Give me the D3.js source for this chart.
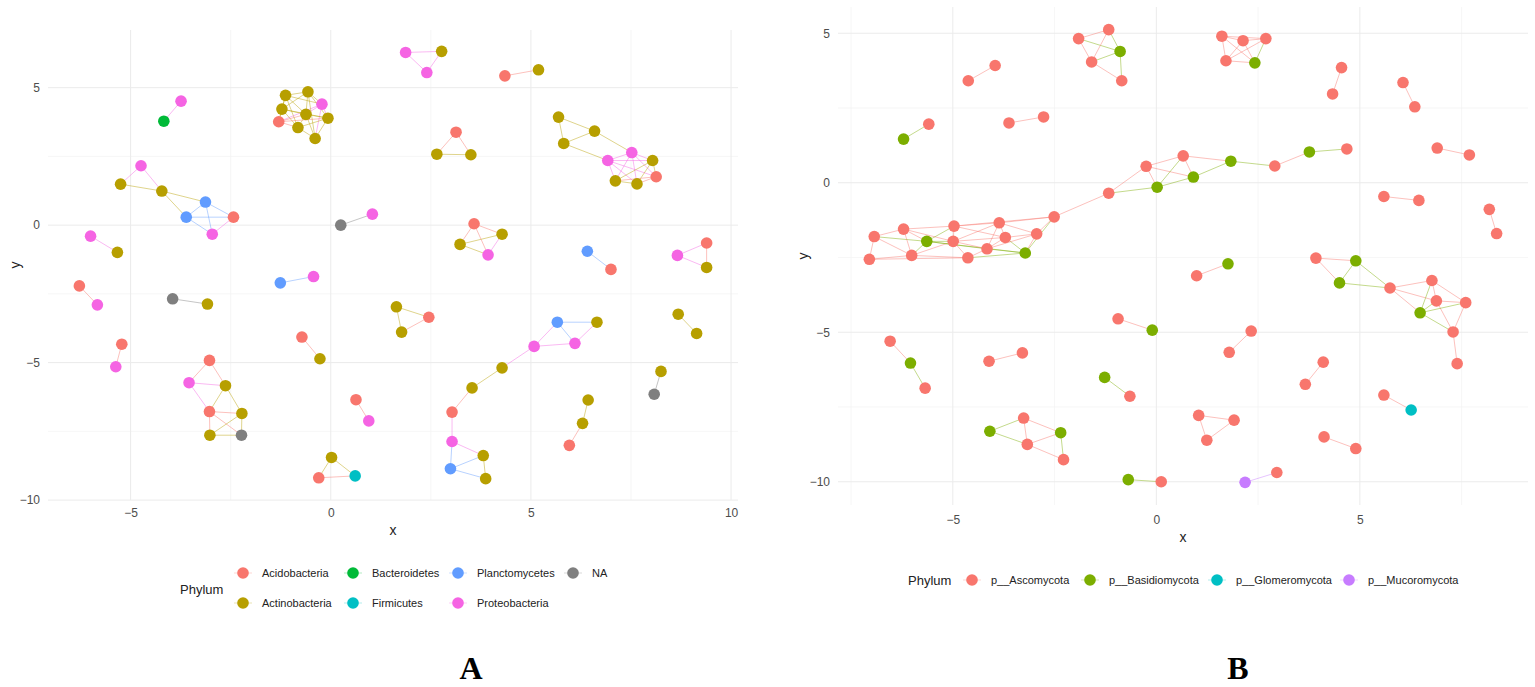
<!DOCTYPE html>
<html>
<head>
<meta charset="utf-8">
<script src="https://cdn.jsdelivr.net/npm/d3@7"></script>
<style>
  body { margin: 0; background: #fff; }
  text { font-family: "Liberation Sans", Arial, sans-serif; }
</style>
</head>
<body>
<svg id="chart" width="1535" height="687"></svg>
<script>
// ---- panel A (bacteria) ----
var phylaA = ["Acidobacteria", "Actinobacteria", "Bacteroidetes", "Firmicutes", "Planctomycetes", "Proteobacteria", "NA"];
var coloursA = ["#F8766D", "#B79F00", "#00BA38", "#00BFC4", "#619CFF", "#F564E3", "#7F7F7F"];
var xTicksA = [-5, 0, 5, 10];
var yTicksA = [-10, -5, 0, 5];

// [x, y, phylum]
var nodesA = [
  [-3.74, 4.51, "Proteobacteria"], [-4.17, 3.78, "Bacteroidetes"],
  [-1.13, 4.72, "Actinobacteria"], [-0.57, 4.85, "Actinobacteria"], [-0.22, 4.40, "Proteobacteria"],
  [-1.22, 4.22, "Actinobacteria"], [-0.62, 4.03, "Actinobacteria"], [-0.07, 3.89, "Actinobacteria"],
  [-1.30, 3.76, "Acidobacteria"], [-0.82, 3.55, "Actinobacteria"], [-0.39, 3.15, "Actinobacteria"],
  [-4.74, 2.16, "Proteobacteria"], [-5.25, 1.49, "Actinobacteria"], [-4.22, 1.24, "Actinobacteria"],
  [-3.13, 0.84, "Planctomycetes"], [-3.61, 0.29, "Planctomycetes"], [-2.43, 0.29, "Acidobacteria"],
  [-2.96, -0.33, "Proteobacteria"],
  [0.25, 0.00, "NA"], [1.04, 0.40, "Proteobacteria"],
  [-6.00, -0.40, "Proteobacteria"], [-5.33, -0.99, "Actinobacteria"],
  [1.87, 6.28, "Proteobacteria"], [2.77, 6.32, "Actinobacteria"], [2.40, 5.55, "Proteobacteria"],
  [4.35, 5.43, "Acidobacteria"], [5.19, 5.65, "Actinobacteria"],
  [3.13, 3.38, "Acidobacteria"], [2.65, 2.58, "Actinobacteria"], [3.50, 2.56, "Actinobacteria"],
  [5.69, 3.93, "Actinobacteria"], [6.59, 3.42, "Actinobacteria"], [5.82, 2.97, "Actinobacteria"],
  [7.52, 2.64, "Proteobacteria"], [6.92, 2.35, "Proteobacteria"], [8.04, 2.35, "Actinobacteria"],
  [8.13, 1.76, "Acidobacteria"], [7.11, 1.61, "Actinobacteria"], [7.65, 1.50, "Actinobacteria"],
  [3.58, 0.05, "Acidobacteria"], [4.28, -0.33, "Actinobacteria"], [3.23, -0.70, "Actinobacteria"],
  [3.93, -1.08, "Proteobacteria"],
  [6.41, -0.95, "Planctomycetes"], [7.00, -1.61, "Acidobacteria"],
  [8.66, -1.10, "Proteobacteria"], [9.39, -0.65, "Acidobacteria"], [9.39, -1.54, "Actinobacteria"],
  [-6.28, -2.21, "Acidobacteria"], [-5.83, -2.90, "Proteobacteria"],
  [-1.26, -2.10, "Planctomycetes"], [-0.43, -1.87, "Proteobacteria"],
  [-3.95, -2.68, "NA"], [-3.08, -2.87, "Actinobacteria"],
  [-5.22, -4.33, "Acidobacteria"], [-5.37, -5.15, "Proteobacteria"],
  [-0.72, -4.07, "Acidobacteria"], [-0.27, -4.86, "Actinobacteria"],
  [-3.03, -4.92, "Acidobacteria"], [-3.54, -5.73, "Proteobacteria"], [-2.63, -5.84, "Actinobacteria"],
  [-3.03, -6.78, "Acidobacteria"], [-2.22, -6.85, "Actinobacteria"], [-3.02, -7.64, "Actinobacteria"],
  [-2.23, -7.64, "NA"],
  [0.63, -6.35, "Acidobacteria"], [0.95, -7.12, "Proteobacteria"],
  [0.02, -8.45, "Actinobacteria"], [-0.30, -9.19, "Acidobacteria"], [0.61, -9.12, "Firmicutes"],
  [1.64, -2.97, "Actinobacteria"], [2.45, -3.35, "Acidobacteria"], [1.77, -3.89, "Actinobacteria"],
  [5.66, -3.53, "Planctomycetes"], [6.65, -3.53, "Actinobacteria"], [6.10, -4.30, "Proteobacteria"],
  [5.08, -4.41, "Proteobacteria"], [4.28, -5.19, "Actinobacteria"], [3.53, -5.92, "Actinobacteria"],
  [3.03, -6.80, "Acidobacteria"], [3.03, -7.87, "Proteobacteria"], [3.81, -8.38, "Actinobacteria"],
  [2.99, -8.86, "Planctomycetes"], [3.87, -9.22, "Actinobacteria"],
  [6.43, -6.36, "Actinobacteria"], [6.29, -7.21, "Actinobacteria"], [5.96, -8.01, "Acidobacteria"],
  [8.68, -3.24, "Actinobacteria"], [9.14, -3.94, "Actinobacteria"],
  [8.25, -5.32, "Actinobacteria"], [8.08, -6.15, "NA"]
];

// [from, to] node indices; the edge takes the colour of "from"
var edgesA = [
  [0, 1],
  [2, 3], [2, 5], [2, 6], [2, 4], [2, 8], [2, 9], [3, 4], [3, 6], [3, 7], [3, 5], [3, 10],
  [4, 6], [4, 7], [4, 10], [4, 8], [5, 6], [5, 8], [5, 9], [5, 7], [6, 7], [8, 6], [6, 9],
  [6, 10], [7, 10], [7, 9], [8, 9], [9, 10], [8, 7],
  [11, 12], [11, 13], [12, 13], [13, 14], [13, 15], [14, 15], [14, 16], [14, 17], [15, 16],
  [15, 17], [17, 16],
  [18, 19], [20, 21],
  [22, 23], [22, 24], [24, 23], [25, 26], [27, 28], [27, 29], [28, 29],
  [30, 31], [30, 32], [31, 32], [31, 33], [32, 34],
  [33, 34], [33, 35], [33, 36], [33, 37], [33, 38], [34, 35], [34, 36], [34, 37], [34, 38],
  [35, 36], [35, 37], [35, 38], [36, 37], [36, 38], [37, 38],
  [39, 40], [39, 41], [39, 42], [41, 40], [41, 42], [42, 40],
  [43, 44], [45, 46], [45, 47], [46, 47],
  [48, 49], [50, 51], [52, 53], [54, 55], [56, 57],
  [58, 59], [58, 60], [59, 60], [59, 61], [60, 61], [60, 62], [61, 62], [61, 63], [61, 64],
  [63, 64], [62, 64], [63, 62],
  [65, 66], [67, 68], [67, 69], [68, 69], [70, 71], [71, 72], [70, 72],
  [73, 74], [73, 75], [75, 74], [76, 73], [76, 75], [76, 77], [77, 78], [79, 78], [80, 79],
  [80, 81], [82, 80], [82, 81], [82, 83], [81, 83],
  [84, 85], [86, 85], [87, 88], [90, 89]
];

// ---- panel B (fungi) ----
var phylaB = ["p__Ascomycota", "p__Basidiomycota", "p__Glomeromycota", "p__Mucoromycota"];
var coloursB = ["#F8766D", "#7CAE00", "#00BFC4", "#C77CFF"];
var xTicksB = [-5, 0, 5];
var yTicksB = [-10, -5, 0, 5];

var nodesB = [
  [-1.91, 4.82, "p__Ascomycota"], [-1.17, 5.12, "p__Ascomycota"], [-0.89, 4.39, "p__Basidiomycota"],
  [-1.59, 4.04, "p__Ascomycota"], [-0.85, 3.41, "p__Ascomycota"],
  [-4.62, 3.41, "p__Ascomycota"], [-3.96, 3.92, "p__Ascomycota"],
  [-6.21, 1.46, "p__Basidiomycota"], [-5.59, 1.96, "p__Ascomycota"],
  [-3.62, 2.00, "p__Ascomycota"], [-2.77, 2.20, "p__Ascomycota"],
  [-6.93, -1.80, "p__Ascomycota"], [-7.05, -2.56, "p__Ascomycota"], [-6.21, -1.55, "p__Ascomycota"],
  [-6.01, -2.43, "p__Ascomycota"], [-5.64, -1.96, "p__Basidiomycota"], [-4.97, -1.45, "p__Ascomycota"],
  [-4.99, -1.96, "p__Ascomycota"], [-4.63, -2.51, "p__Ascomycota"], [-3.86, -1.34, "p__Ascomycota"],
  [-3.71, -1.83, "p__Ascomycota"], [-4.16, -2.21, "p__Ascomycota"], [-2.94, -1.71, "p__Ascomycota"],
  [-3.22, -2.35, "p__Basidiomycota"], [-2.51, -1.14, "p__Ascomycota"], [-1.17, -0.35, "p__Ascomycota"],
  [-0.25, 0.55, "p__Ascomycota"], [0.02, -0.15, "p__Basidiomycota"], [0.66, 0.90, "p__Ascomycota"],
  [0.91, 0.19, "p__Basidiomycota"], [1.83, 0.72, "p__Basidiomycota"], [2.91, 0.56, "p__Ascomycota"],
  [3.76, 1.03, "p__Basidiomycota"], [4.68, 1.13, "p__Ascomycota"],
  [1.61, 4.90, "p__Ascomycota"], [2.13, 4.75, "p__Ascomycota"], [2.69, 4.82, "p__Ascomycota"],
  [1.71, 4.08, "p__Ascomycota"], [2.42, 4.01, "p__Basidiomycota"],
  [4.55, 3.85, "p__Ascomycota"], [4.33, 2.97, "p__Ascomycota"],
  [6.06, 3.35, "p__Ascomycota"], [6.35, 2.54, "p__Ascomycota"],
  [6.90, 1.16, "p__Ascomycota"], [7.69, 0.93, "p__Ascomycota"],
  [5.59, -0.46, "p__Ascomycota"], [6.45, -0.59, "p__Ascomycota"],
  [8.18, -0.89, "p__Ascomycota"], [8.36, -1.70, "p__Ascomycota"],
  [0.99, -3.11, "p__Ascomycota"], [1.76, -2.71, "p__Basidiomycota"],
  [-0.94, -4.55, "p__Ascomycota"], [-0.10, -4.93, "p__Basidiomycota"],
  [2.33, -4.96, "p__Ascomycota"], [1.79, -5.67, "p__Ascomycota"],
  [4.10, -6.00, "p__Ascomycota"], [3.66, -6.74, "p__Ascomycota"],
  [5.59, -7.10, "p__Ascomycota"], [6.26, -7.60, "p__Glomeromycota"],
  [1.04, -7.78, "p__Ascomycota"], [1.91, -7.94, "p__Ascomycota"], [1.24, -8.61, "p__Ascomycota"],
  [4.12, -8.50, "p__Ascomycota"], [4.90, -8.89, "p__Ascomycota"],
  [2.18, -10.02, "p__Mucoromycota"], [2.96, -9.69, "p__Ascomycota"],
  [-0.69, -9.93, "p__Basidiomycota"], [0.12, -10.00, "p__Ascomycota"],
  [3.92, -2.52, "p__Ascomycota"], [4.90, -2.61, "p__Basidiomycota"], [4.50, -3.35, "p__Basidiomycota"],
  [5.74, -3.52, "p__Ascomycota"], [6.77, -3.27, "p__Ascomycota"], [6.88, -3.95, "p__Ascomycota"],
  [7.60, -4.01, "p__Ascomycota"], [6.48, -4.35, "p__Basidiomycota"], [7.29, -4.99, "p__Ascomycota"],
  [7.39, -6.05, "p__Ascomycota"],
  [-6.54, -5.30, "p__Ascomycota"], [-6.04, -6.03, "p__Basidiomycota"], [-5.68, -6.87, "p__Ascomycota"],
  [-4.11, -5.97, "p__Ascomycota"], [-3.29, -5.69, "p__Ascomycota"],
  [-1.27, -6.51, "p__Basidiomycota"], [-0.65, -7.14, "p__Ascomycota"],
  [-3.26, -7.87, "p__Ascomycota"], [-4.09, -8.31, "p__Basidiomycota"], [-2.35, -8.36, "p__Basidiomycota"],
  [-3.17, -8.75, "p__Ascomycota"], [-2.28, -9.26, "p__Ascomycota"]
];

var edgesB = [
  [0, 1], [0, 3], [2, 0], [2, 1], [1, 3], [2, 3], [2, 4], [3, 4],
  [5, 6], [7, 8], [9, 10],
  [11, 12], [11, 13], [11, 14], [15, 11], [12, 14], [12, 18], [13, 15], [13, 16], [13, 14],
  [13, 17], [15, 14], [14, 18], [14, 17], [15, 16], [15, 17], [15, 21], [15, 23], [16, 19],
  [16, 20], [16, 17], [16, 24], [17, 21], [17, 19], [17, 20], [17, 18], [18, 21], [23, 18],
  [19, 20], [19, 24], [19, 22], [19, 21], [20, 22], [23, 20], [20, 21], [23, 21], [21, 22],
  [22, 23], [22, 24], [23, 24], [24, 25], [25, 26], [27, 25], [26, 27], [26, 28], [26, 29],
  [27, 29], [27, 28], [28, 29], [28, 30], [29, 30], [30, 31], [31, 32], [32, 33],
  [34, 35], [35, 36], [34, 37], [37, 38], [38, 36], [34, 38], [35, 37], [35, 38], [36, 37], [34, 36],
  [39, 40], [41, 42], [43, 44], [45, 46], [47, 48],
  [49, 50], [51, 52], [53, 54], [55, 56], [57, 58],
  [59, 60], [59, 61], [61, 60], [62, 63], [64, 65], [66, 67],
  [68, 69], [68, 70], [70, 69], [69, 71], [70, 71], [71, 72], [71, 73], [71, 75], [72, 73],
  [72, 74], [75, 72], [73, 74], [75, 73], [73, 76], [75, 74], [75, 76], [74, 76], [76, 77],
  [78, 79], [79, 80], [81, 82], [83, 84],
  [86, 85], [86, 88], [85, 88], [85, 87], [88, 87], [88, 89], [87, 89]
];

var svg = d3.select("#chart");

function padDomain(ext) {
  var pad = (ext[1] - ext[0]) * 0.05;
  return [ext[0] - pad, ext[1] + pad];
}

function minorTicks(major, domain) {
  var step = major[1] - major[0];
  var out = [major[0] - step / 2];
  major.forEach(function (m) { out.push(m + step / 2); });
  return out.filter(function (v) { return v > domain[0] && v < domain[1]; });
}

function drawPanel(o) {
  var g = svg.append("g");

  var x = d3.scaleLinear()
      .domain(padDomain(d3.extent(o.nodes, function (d) { return d[0]; })))
      .range([o.left, o.right]);
  var y = d3.scaleLinear()
      .domain(padDomain(d3.extent(o.nodes, function (d) { return d[1]; })))
      .range([o.bottom, o.top]);
  var colour = d3.scaleOrdinal().domain(o.phyla).range(o.colours);

  // grid, minor first then major
  var grid = g.append("g");
  grid.selectAll(".xminor").data(minorTicks(o.xTicks, x.domain())).enter().append("line")
      .attr("x1", function (d) { return x(d); }).attr("x2", function (d) { return x(d); })
      .attr("y1", o.top).attr("y2", o.bottom)
      .style("stroke", "#f2f2f2").style("stroke-width", 0.7);
  grid.selectAll(".yminor").data(minorTicks(o.yTicks, y.domain())).enter().append("line")
      .attr("y1", function (d) { return y(d); }).attr("y2", function (d) { return y(d); })
      .attr("x1", o.left).attr("x2", o.right)
      .style("stroke", "#f2f2f2").style("stroke-width", 0.7);
  grid.selectAll(".xmajor").data(o.xTicks).enter().append("line")
      .attr("x1", function (d) { return x(d); }).attr("x2", function (d) { return x(d); })
      .attr("y1", o.top).attr("y2", o.bottom)
      .style("stroke", "#ebebeb").style("stroke-width", 1);
  grid.selectAll(".ymajor").data(o.yTicks).enter().append("line")
      .attr("y1", function (d) { return y(d); }).attr("y2", function (d) { return y(d); })
      .attr("x1", o.left).attr("x2", o.right)
      .style("stroke", "#ebebeb").style("stroke-width", 1);

  // axes (labels only, theme_minimal has no axis lines)
  var xAxis = g.append("g")
      .attr("transform", "translate(0," + o.bottom + ")")
      .call(d3.axisBottom(x).tickValues(o.xTicks).tickSize(0).tickPadding(o.tickPad));
  var yAxis = g.append("g")
      .attr("transform", "translate(" + o.left + ",0)")
      .call(d3.axisLeft(y).tickValues(o.yTicks).tickSize(0).tickPadding(8));
  [xAxis, yAxis].forEach(function (ax) {
    ax.select(".domain").remove();
    ax.selectAll("text")
        .style("font-family", "'Liberation Sans', Arial, sans-serif")
        .style("font-size", "12px")
        .style("fill", "#4d4d4d");
  });

  g.append("text")
      .attr("x", (o.left + o.right) / 2)
      .attr("y", o.bottom + o.titlePad)
      .attr("text-anchor", "middle")
      .style("font-size", "14px")
      .style("fill", "#222")
      .text("x");
  g.append("text")
      .attr("transform", "translate(" + o.yTitleX + "," + ((o.top + o.bottom) / 2) + ") rotate(-90)")
      .attr("text-anchor", "middle")
      .attr("dy", "0.35em")
      .style("font-size", "14px")
      .style("fill", "#222")
      .text("y");

  // edges
  g.append("g").selectAll("line")
      .data(o.edges)
      .enter().append("line")
      .attr("x1", function (d) { return x(o.nodes[d[0]][0]); })
      .attr("y1", function (d) { return y(o.nodes[d[0]][1]); })
      .attr("x2", function (d) { return x(o.nodes[d[1]][0]); })
      .attr("y2", function (d) { return y(o.nodes[d[1]][1]); })
      .style("stroke", function (d) { return colour(o.nodes[d[0]][2]); })
      .style("stroke-opacity", 0.45)
      .style("stroke-width", 1);

  // nodes
  g.append("g").selectAll("circle")
      .data(o.nodes)
      .enter().append("circle")
      .attr("cx", function (d) { return x(d[0]); })
      .attr("cy", function (d) { return y(d[1]); })
      .attr("r", 5.8)
      .style("fill", function (d) { return colour(d[2]); });

  // legend
  var leg = g.append("g");
  leg.append("text")
      .attr("x", o.legend.titleX)
      .attr("y", o.legend.titleY)
      .attr("dy", "0.35em")
      .style("font-size", "13px")
      .style("fill", "#222")
      .text("Phylum");
  var item = leg.selectAll(".key")
      .data(o.phyla)
      .enter().append("g")
      .attr("transform", function (d, i) {
        var p = o.legend.place(i);
        return "translate(" + p[0] + "," + p[1] + ")";
      });
  item.append("line")
      .attr("x1", -9).attr("x2", 9)
      .style("stroke", function (d) { return colour(d); })
      .style("stroke-opacity", 0.3)
      .style("stroke-width", 1);
  item.append("circle")
      .attr("r", 5.8)
      .style("fill", function (d) { return colour(d); });
  item.append("text")
      .attr("x", 19)
      .attr("dy", "0.35em")
      .style("font-size", "11px")
      .style("fill", "#222")
      .text(function (d) { return d; });

  // panel letter, kept inside the bottom edge
  g.append("text")
      .attr("x", o.letterX)
      .attr("y", 668)
      .attr("dy", "0.35em")
      .attr("text-anchor", "middle")
      .style("font-family", "'Liberation Serif', 'Times New Roman', serif")
      .style("font-weight", "bold")
      .style("font-size", "32px")
      .style("fill", "#000")
      .text(o.letter);
}

var legColsA = [243, 353, 458, 573];
var legRowsA = [573, 603];
drawPanel({
  nodes: nodesA, edges: edgesA, phyla: phylaA, colours: coloursA,
  xTicks: xTicksA, yTicks: yTicksA,
  left: 48, right: 738, top: 30, bottom: 500,
  tickPad: 8, titlePad: 35, yTitleX: 15,
  letter: "A", letterX: 471,
  legend: {
    titleX: 180, titleY: 589,
    place: function (i) { return [legColsA[Math.floor(i / 2)], legRowsA[i % 2]]; }
  }
});

var legColsB = [972, 1090, 1217, 1349];
drawPanel({
  nodes: nodesB, edges: edgesB, phyla: phylaB, colours: coloursB,
  xTicks: xTicksB, yTicks: yTicksB,
  left: 838, right: 1528, top: 7, bottom: 505,
  tickPad: 10, titlePad: 37, yTitleX: 803,
  letter: "B", letterX: 1238,
  legend: {
    titleX: 908, titleY: 580,
    place: function (i) { return [legColsB[i], 580]; }
  }
});
</script>
</body>
</html>
